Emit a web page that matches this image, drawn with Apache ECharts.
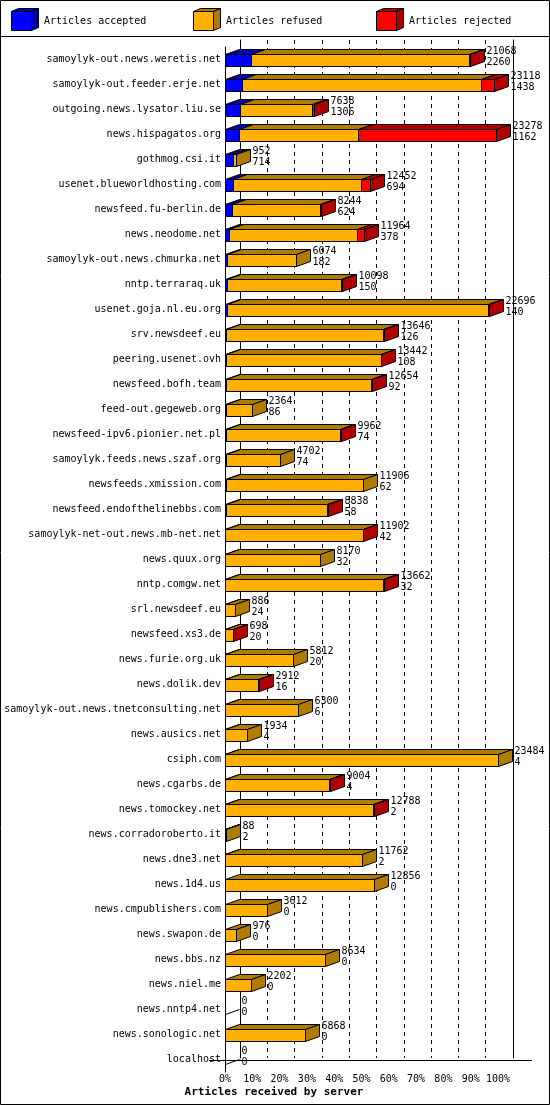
<!DOCTYPE html>
<html><head><meta charset="utf-8">
<script src="https://cdn.jsdelivr.net/npm/echarts@6/dist/echarts.min.js"></script>
<style>html,body{margin:0;padding:0;background:#fff}#c{width:550px;height:1105px}</style>
</head><body><div id="c"></div>
<script>
var servers = ["samoylyk-out.news.weretis.net","samoylyk-out.feeder.erje.net","outgoing.news.lysator.liu.se","news.hispagatos.org","gothmog.csi.it","usenet.blueworldhosting.com","newsfeed.fu-berlin.de","news.neodome.net","samoylyk-out.news.chmurka.net","nntp.terraraq.uk","usenet.goja.nl.eu.org","srv.newsdeef.eu","peering.usenet.ovh","newsfeed.bofh.team","feed-out.gegeweb.org","newsfeed-ipv6.pionier.net.pl","samoylyk.feeds.news.szaf.org","newsfeeds.xmission.com","newsfeed.endofthelinebbs.com","samoylyk-net-out.news.mb-net.net","news.quux.org","nntp.comgw.net","srl.newsdeef.eu","newsfeed.xs3.de","news.furie.org.uk","news.dolik.dev","samoylyk-out.news.tnetconsulting.net","news.ausics.net","csiph.com","news.cgarbs.de","news.tomockey.net","news.corradoroberto.it","news.dne3.net","news.1d4.us","news.cmpublishers.com","news.swapon.de","news.bbs.nz","news.niel.me","news.nntp4.net","news.sonologic.net","localhost"];
var totals = [21068,23118,7638,23278,952,12452,8244,11964,6074,10098,22696,13646,13442,12654,2364,9962,4702,11906,8838,11902,8170,13662,886,698,5812,2912,6300,1934,23484,9004,12788,88,11762,12856,3612,976,8634,2202,0,6868,0];
var accepted = [2260,1438,1306,1162,714,694,624,378,182,150,140,126,108,92,86,74,74,62,58,42,32,32,24,20,20,16,6,4,4,4,2,2,2,0,0,0,0,0,0,0,0];
var rejected = [100,1100,120,11800,0,750,100,600,0,80,60,60,60,60,0,60,0,0,60,50,0,100,0,30,0,40,0,0,0,50,50,0,0,0,0,0,0,0,0,0,0];
var tickLabels = ["0%","10%","20%","30%","40%","50%","60%","70%","80%","90%","100%"];

var MAX = Math.max.apply(null, totals);
var DX = 14, DY = 5, H = 12;
var cols = [
  {front:'#0000ff', dark:'#0000b0'},
  {front:'#ffb000', dark:'#b07c00'},
  {front:'#ff0000', dark:'#b00000'}
];
var font = '10px "DejaVu Sans Mono", monospace';
var ln = {stroke:'#000', lineWidth:1};

function renderItem(params, api) {
  var i = api.value(0);
  var acc = accepted[i], rej = rejected[i], ref = totals[i] - acc - rej;
  var segs = [acc, ref, rej];
  var c = api.coord([0, i]);
  var x0 = Math.round(c[0]) + 0.5, yc = Math.round(c[1]);
  var top = yc - 6 + 0.5, bot = yc + 6 + 0.5;
  var ch = [];
  ch.push({type:'line', shape:{x1:x0, y1:yc+4.5, x2:x0+DX, y2:yc-0.5}, style:ln, z2:1});
  var cum = 0, lastIdx = -1, xs = [];
  for (var k = 0; k < 3; k++) {
    if (segs[k] <= 0) continue;
    var a = api.coord([cum / MAX * 100, i])[0];
    cum += segs[k];
    var b = api.coord([cum / MAX * 100, i])[0];
    a = Math.round(a) + 0.5; b = Math.round(b) + 0.5;
    ch.push({type:'rect', shape:{x:a, y:top, width:b-a, height:H}, style:{fill:cols[k].front, stroke:'#000', lineWidth:1}, z2:2});
    ch.push({type:'polygon', shape:{points:[[a,top],[a+DX,top-DY],[b+DX,top-DY],[b,top]]}, style:{fill:cols[k].dark, stroke:'#000', lineWidth:1}, z2:2});
    lastIdx = k; xs.push(b);
  }
  var xe = x0;
  if (lastIdx >= 0) {
    xe = xs[xs.length-1];
    ch.push({type:'polygon', shape:{points:[[xe,top],[xe+DX,top-DY],[xe+DX,bot-DY],[xe,bot]]}, style:{fill:cols[lastIdx].dark, stroke:'#000', lineWidth:1}, z2:3});
  }
  ch.push({type:'text', style:{text:String(totals[i]), x:xe+DX+2, y:yc-9, font:font, fill:'#000', verticalAlign:'middle'}, z2:4});
  ch.push({type:'text', style:{text:String(accepted[i]), x:xe+DX+2, y:yc+2, font:font, fill:'#000', verticalAlign:'middle'}, z2:4});
  return {type:'group', children:ch};
}

function cube(x, y, k) {
  return [
    {type:'rect', shape:{x:x+0.5,y:y+0.5,width:20,height:19}, style:{fill:cols[k].front, stroke:'#000'}},
    {type:'polygon', shape:{points:[[x+0.5,y+0.5],[x+7.5,y-2.5],[x+27.5,y-2.5],[x+20.5,y+0.5]]}, style:{fill:cols[k].dark, stroke:'#000'}},
    {type:'polygon', shape:{points:[[x+20.5,y+0.5],[x+27.5,y-2.5],[x+27.5,y+16.5],[x+20.5,y+19.5]]}, style:{fill:cols[k].dark, stroke:'#000'}}
  ];
}
var legendNames = ["Articles accepted","Articles refused","Articles rejected"];
var gfx = [
  {type:'rect', shape:{x:0.5,y:0.5,width:549,height:1104}, style:{fill:'none', stroke:'#000'}, z:100},
  {type:'line', shape:{x1:0,y1:36.5,x2:550,y2:36.5}, style:ln},
  {type:'line', shape:{x1:209,y1:1060.5,x2:532,y2:1060.5}, style:ln},
  {type:'text', style:{text:'Articles received by server', x:274, y:1092, font:'bold 11px "DejaVu Sans Mono", monospace', fill:'#000', align:'center', verticalAlign:'middle'}}
];
var lx = [11, 193, 376];
for (var k = 0; k < 3; k++) {
  gfx = gfx.concat(cube(lx[k], 11, k));
  gfx.push({type:'text', style:{text:legendNames[k], x:lx[k]+33, y:21, font:font, fill:'#000', verticalAlign:'middle'}});
}

var chart = echarts.init(document.getElementById('c'), null, {renderer:'canvas'});
chart.setOption({
  animation:false,
  backgroundColor:'#fff',
  grid:[
    {left:225, right:52, top:47, bottom:33},
    {left:240, right:37, top:40, bottom:47}
  ],
  xAxis:[
    {gridIndex:0, type:'value', min:0, max:100, interval:10,
     axisLine:{show:false}, axisTick:{show:false}, splitLine:{show:false},
     axisLabel:{margin:2, fontFamily:'DejaVu Sans Mono', fontSize:10, color:'#000',
       formatter:function(v){return tickLabels[Math.round(v/10)];}}},
    {gridIndex:1, type:'value', min:0, max:100, interval:10,
     axisLine:{show:false}, axisTick:{show:false}, axisLabel:{show:false},
     splitLine:{show:true, lineStyle:{color:'#000', type:[4,4], width:1}}}
  ],
  yAxis:[
    {gridIndex:0, type:'category', data:servers, inverse:true,
     axisLine:{show:true, lineStyle:{color:'#000'}}, axisTick:{show:false},
     axisLabel:{margin:4, fontFamily:'DejaVu Sans Mono', fontSize:10, color:'#000'}},
    {gridIndex:1, type:'value', min:0, max:1, position:'left',
     axisLine:{show:true, lineStyle:{color:'#000'}}, axisTick:{show:false}, axisLabel:{show:false}, splitLine:{show:false}},
    {gridIndex:1, type:'value', min:0, max:1, position:'right',
     axisLine:{show:true, lineStyle:{color:'#000'}}, axisTick:{show:false}, axisLabel:{show:false}, splitLine:{show:false}}
  ],
  series:[{
    type:'custom', xAxisIndex:0, yAxisIndex:0,
    data: servers.map(function(s, i){ return [i]; }),
    encode:{y:0},
    renderItem: renderItem, z:10
  }],
  graphic: gfx
});
</script></body></html>
